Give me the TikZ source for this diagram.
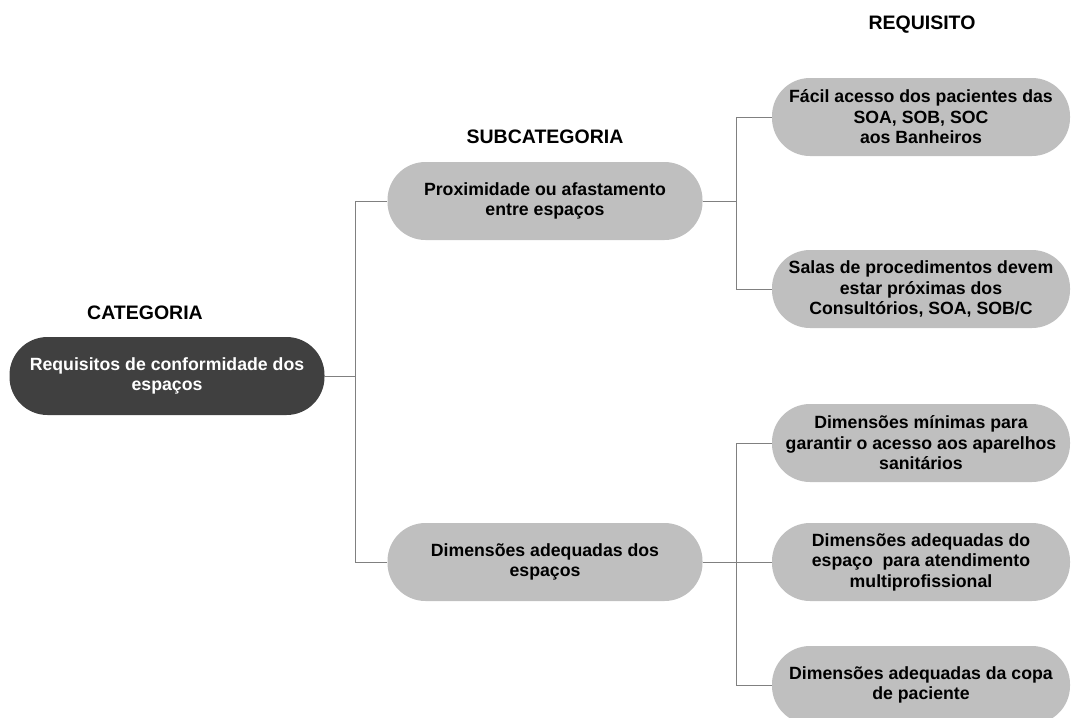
\documentclass[tikz,border=0pt]{standalone}
\usepackage{fontspec}
\setmainfont{Liberation Sans}
\usepackage{tikz}

\definecolor{pilldark}{HTML}{404040}
\definecolor{pilllight}{HTML}{BFBFBF}
\definecolor{linkgray}{HTML}{808080}

\tikzset{
  pill/.style={rounded corners=38pt, minimum height=78pt, align=center,
    inner sep=0pt, font=\bfseries\fontsize{17.7}{20.5}\selectfont},
  catpill/.style={pill, fill=pilldark, text=white, minimum width=315pt},
  subpill/.style={pill, fill=pilllight, text=black, minimum width=315pt},
  reqpill/.style={pill, fill=pilllight, text=black, minimum width=298pt},
  heading/.style={font=\bfseries\fontsize{19.5}{22}\selectfont},
  link/.style={linkgray, line width=1pt}
}

\begin{document}
\begin{tikzpicture}[x=1pt, y=-1pt]
    \useasboundingbox (0,0) rectangle (1072,718) ;
    % headings
    \node[heading] (hcat) at (145,313) {CATEGORIA} ;
    \node[heading] (hsub) at (545,137) {SUBCATEGORIA} ;
    \node[heading] (hreq) at (922,25) {REQUISITO} ;
    % category
    \node[catpill] (cat) at (167,376) {Requisitos de conformidade dos\\espaços} ;
    % subcategories
    \node[subpill] (sub1) at (545,201) {Proximidade ou afastamento\\entre espaços} ;
    \node[subpill] (sub2) at (545,562) {Dimensões adequadas dos\\espaços} ;
    % requirements
    \node[reqpill] (req1) at (921,117) {Fácil acesso dos pacientes das\\SOA, SOB, SOC\\aos Banheiros} ;
    \node[reqpill] (req2) at (921,289) {Salas de procedimentos devem\\estar próximas dos\\Consultórios, SOA, SOB/C} ;
    \node[reqpill] (req3) at (921,443) {Dimensões mínimas para\\garantir o acesso aos aparelhos\\sanitários} ;
    \node[reqpill] (req4) at (921,562) {Dimensões adequadas do\\espaço~ para atendimento\\multiprofissional} ;
    \node[reqpill] (req5) at (921,685) {Dimensões adequadas da copa\\de paciente} ;
    % branch points
    \coordinate (jcat) at (355,376) ;
    \coordinate (jsub1) at (736,201) ;
    \coordinate (jsub2) at (736,562) ;
    % connectors
    \draw[link] (cat.east) -- (jcat) ;
    \draw[link] (sub1.west) -| (jcat) ;
    \draw[link] (sub2.west) -| (jcat) ;
    \draw[link] (sub1.east) -- (jsub1) ;
    \draw[link] (req1.west) -| (jsub1) ;
    \draw[link] (req2.west) -| (jsub1) ;
    \draw[link] (sub2.east) -- (jsub2) ;
    \draw[link] (req3.west) -| (jsub2) ;
    \draw[link] (req4.west) -- (jsub2) ;
    \draw[link] (req5.west) -| (jsub2) ;
\end{tikzpicture}
\end{document}
